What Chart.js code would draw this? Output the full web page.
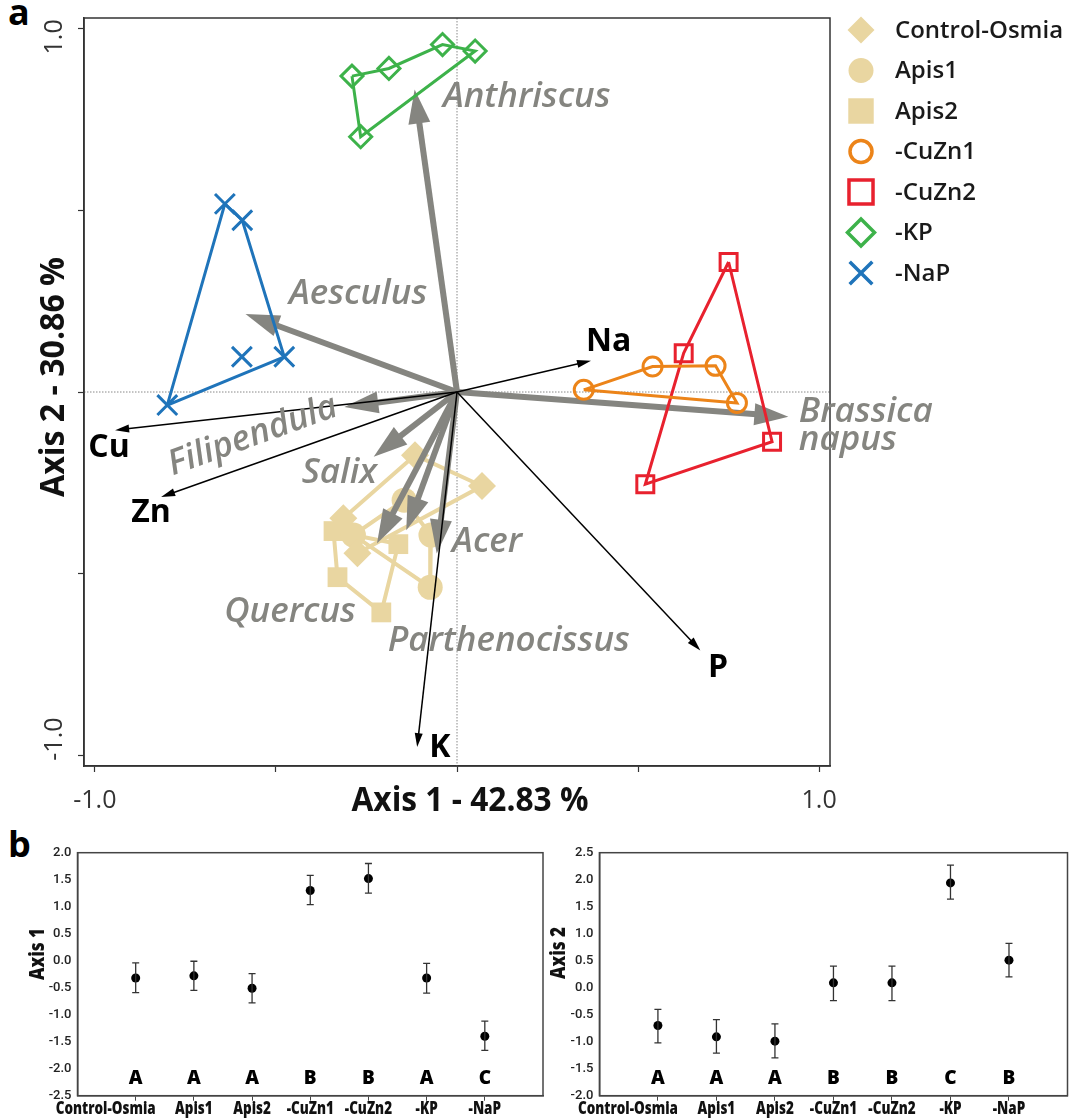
<!DOCTYPE html>
<html>
<head>
<meta charset="utf-8">
<script src="https://cdn.jsdelivr.net/npm/chart.js@4.4.0/dist/chart.umd.min.js"></script>
<style>
  body { margin: 0; background: #fff; width: 1072px; height: 1119px; position: relative; overflow: hidden; }
  .box { position: absolute; }
  .tag { position: absolute; font: 700 36px 'Open Sans', sans-serif; color: #000; line-height: 1; }
</style>
</head>
<body>
<div class="tag" style="left:8px;top:-6px">a</div>
<div class="tag" style="left:8px;top:826px">b</div>
<div class="box" style="left:0;top:0;width:1072px;height:830px"><canvas id="pca"></canvas></div>
<div class="box" style="left:0;top:835px;width:548px;height:284px"><canvas id="axis1"></canvas></div>
<div class="box" style="left:548px;top:835px;width:524px;height:284px"><canvas id="axis2"></canvas></div>
<script>
// ── panel a: sample scores on axis 1 / axis 2 ───────────────
const groupNames = ['Control-Osmia', 'Apis1', 'Apis2', '-CuZn1', '-CuZn2', '-KP', '-NaP'];

const ctrlX  = [-0.116, 0.069, -0.275, -0.314];
const ctrlY  = [-0.174, -0.259, -0.444, -0.348];
const apis1X = [-0.146, -0.072, -0.074, -0.286];
const apis1Y = [-0.298, -0.394, -0.538, -0.394];
const apis2X = [-0.341, -0.162, -0.209, -0.330];
const apis2Y = [-0.383, -0.419, -0.607, -0.510];
const cuzn1X = [0.350, 0.540, 0.714, 0.773];
const cuzn1Y = [0.006, 0.070, 0.072, -0.030];
const cuzn2X = [0.750, 0.870, 0.520, 0.626];
const cuzn2Y = [0.358, -0.137, -0.254, 0.107];
const kpX    = [-0.290, -0.188, -0.040, 0.050, -0.266];
const kpY    = [0.870, 0.891, 0.957, 0.939, 0.703];
const napX   = [-0.641, -0.593, -0.477, -0.800, -0.594];
const napY   = [0.518, 0.473, 0.097, -0.036, 0.097];
// order of the outline corners (the last -NaP point lies inside)
const hullOrder = [[0,1,2,3], [0,1,2,3], [0,1,2,3], [0,1,2,3], [0,1,2,3], [0,1,2,3,4], [0,1,2,3]];

// pollen taxa (grey) and elements (black) – arrow tips
const taxa   = ['Anthriscus', 'Aesculus', 'Filipendula', 'Salix', 'Quercus', 'Parthenocissus', 'Acer', 'Brassica napus'];
const taxaX  = [-0.117, -0.584, -0.311, -0.230, -0.221, -0.140, -0.056, 0.915];
const taxaY  = [0.833, 0.215, -0.041, -0.178, -0.417, -0.381, -0.445, -0.068];
const elements = ['Na', 'Cu', 'Zn', 'P', 'K'];
const elemX  = [0.370, -0.944, -0.817, 0.672, -0.110];
const elemY  = [0.086, -0.105, -0.289, -0.712, -0.978];

const axisTicks = [-1, -0.5, 0, 0.5, 1];

// ── panel b: group means with error bars ─────────────────────
const axis1Mean = [-0.32, -0.28, -0.51, 1.30, 1.52, -0.32, -1.40];
const axis1Lo   = [-0.59, -0.55, -0.78, 1.04, 1.25, -0.60, -1.66];
const axis1Hi   = [-0.04, -0.01, -0.24, 1.58, 1.80, -0.05, -1.12];
const axis1Letters = ['A', 'A', 'A', 'B', 'B', 'A', 'C'];
const axis2Mean = [-0.70, -0.91, -0.99, 0.09, 0.09, 1.94, 0.51];
const axis2Lo   = [-1.02, -1.21, -1.30, -0.24, -0.24, 1.64, 0.20];
const axis2Hi   = [-0.40, -0.59, -0.67, 0.40, 0.40, 2.27, 0.82];
const axis2Letters = ['A', 'A', 'A', 'B', 'B', 'C', 'B'];

// ── styles ───────────────────────────────────────────────────
const FONT = "'Open Sans', sans-serif";
const GREY = '#858580';
const BEIGE = '#e9d6a1';
const groupStyle = [
  { color: BEIGE,     pointStyle: 'rectRot',  radius: 14,   legendR: 13.5, fill: true },
  { color: BEIGE,     pointStyle: 'circle',   radius: 12.5, legendR: 12.5, fill: true },
  { color: BEIGE,     pointStyle: 'rect',     radius: 14,   legendR: 18,   fill: true },
  { color: '#ec8419', pointStyle: 'circle',   radius: 9.5,  legendR: 11,   fill: false },
  { color: '#e8212e', pointStyle: 'rect',     radius: 12,   legendR: 17,   fill: false },
  { color: '#3db24a', pointStyle: 'rectRot',  radius: 11,   legendR: 13.5, fill: false },
  { color: '#1f74ba', pointStyle: 'crossRot', radius: 14,   legendR: 16,   fill: false },
];
// label anchors (data units) for the arrow names
const taxaLabelPos = [[-0.039, 0.811, 'left'], [-0.464, 0.270, 'left'], [-0.564, -0.121, 'center', -20],
  [-0.325, -0.222, 'center'], [-0.461, -0.606, 'center'], [0.143, -0.686, 'center'], [0.083, -0.413, 'center'], [0.944, -0.055, 'left']];
const elemLabelPos = [[0.356, 0.139, 'left'], [-0.961, -0.153, 'center'], [-0.845, -0.332, 'center'], [0.721, -0.759, 'center'], [-0.047, -0.979, 'center']];

const groupX = [ctrlX, apis1X, apis2X, cuzn1X, cuzn2X, kpX, napX];
const groupY = [ctrlY, apis1Y, apis2Y, cuzn1Y, cuzn2Y, kpY, napY];

const datasets = [];
groupNames.forEach((name, g) => {
  const st = groupStyle[g];
  const pts = groupX[g].map((x, i) => ({ x, y: groupY[g][i] }));
  const back = g < 3;
  datasets.push({
    label: name + ' outline', data: hullOrder[g].concat(hullOrder[g][0]).map(i => pts[i]),
    showLine: true, borderColor: st.color, borderWidth: back ? 4 : 3, pointRadius: 0, order: back ? 20 : 11,
  });
  datasets.push({
    label: name, data: pts, pointStyle: st.pointStyle, pointRadius: st.radius,
    pointBackgroundColor: st.fill ? st.color : 'rgba(0,0,0,0)', pointBorderColor: st.color,
    pointBorderWidth: st.fill ? 0 : 3, order: back ? 19 : 10, arrowsAfter: g === 0,
  });
});

function drawArrow(ctx, x0, y0, x1, y1, w, headLen, headW, color) {
  const a = Math.atan2(y1 - y0, x1 - x0);
  const bx = x1 - headLen * Math.cos(a), by = y1 - headLen * Math.sin(a);
  ctx.save();
  ctx.strokeStyle = color; ctx.fillStyle = color; ctx.lineWidth = w;
  ctx.beginPath(); ctx.moveTo(x0, y0); ctx.lineTo(bx + 2 * Math.cos(a), by + 2 * Math.sin(a)); ctx.stroke();
  ctx.beginPath();
  ctx.moveTo(x1, y1);
  ctx.lineTo(bx + headW / 2 * Math.sin(a), by - headW / 2 * Math.cos(a));
  ctx.lineTo(bx - headW / 2 * Math.sin(a), by + headW / 2 * Math.cos(a));
  ctx.closePath(); ctx.fill();
  ctx.restore();
}

// text squeezed horizontally to a given width (the original uses a condensed face)
function fitText(ctx, text, x, y, width, rot) {
  const sx = width / ctx.measureText(text).width;
  ctx.save();
  ctx.translate(x, y);
  if (rot) ctx.rotate(rot);
  ctx.scale(sx, 1);
  ctx.fillText(text, 0, 0);
  ctx.restore();
  return sx;
}

const pcaDecor = {
  id: 'pcaDecor',
  beforeDatasetsDraw(chart) {
    const { ctx, chartArea: a, scales: { x, y } } = chart;
    ctx.save();
    ctx.strokeStyle = '#888'; ctx.lineWidth = 1; ctx.setLineDash([1.5, 1.5]);
    const x0 = x.getPixelForValue(0), y0 = y.getPixelForValue(0);
    ctx.beginPath();
    ctx.moveTo(x0, a.top); ctx.lineTo(x0, a.bottom);
    ctx.moveTo(a.left, y0); ctx.lineTo(a.right, y0);
    ctx.stroke();
    ctx.setLineDash([]);
    ctx.strokeStyle = '#333'; ctx.lineWidth = 1.5;
    ctx.strokeRect(a.left, a.top, a.right - a.left, a.bottom - a.top);
    ctx.restore();
  },
  afterDatasetDraw(chart, args) {
    if (!chart.data.datasets[args.index].arrowsAfter) return;
    const { ctx, scales: { x, y } } = chart;
    const ox = x.getPixelForValue(0), oy = y.getPixelForValue(0);
    taxa.forEach((t, i) => drawArrow(ctx, ox, oy, x.getPixelForValue(taxaX[i]), y.getPixelForValue(taxaY[i]), 6, 34, 22, GREY));
    elements.forEach((e, i) => drawArrow(ctx, ox, oy, x.getPixelForValue(elemX[i]), y.getPixelForValue(elemY[i]), 1.5, 14, 8, '#000'));
  },
  afterDraw(chart) {
    const { ctx, chartArea: a, scales: { x, y } } = chart;
    ctx.save();
    ctx.textBaseline = 'middle';
    // arrow names
    ctx.fillStyle = GREY;
    ctx.font = `italic 600 35px ${FONT}`;
    taxa.forEach((t, i) => {
      const [lx, ly, align, rot] = taxaLabelPos[i];
      const px = x.getPixelForValue(lx), py = y.getPixelForValue(ly);
      ctx.save();
      ctx.translate(px, py);
      if (rot) ctx.rotate(rot * Math.PI / 180);
      ctx.textAlign = align;
      t.split(' ').forEach((s, k) => ctx.fillText(s, 0, k * 28));
      ctx.restore();
    });
    ctx.fillStyle = '#000';
    ctx.font = `700 32px ${FONT}`;
    elements.forEach((e, i) => {
      const [lx, ly, align] = elemLabelPos[i];
      ctx.textAlign = align;
      ctx.fillText(e, x.getPixelForValue(lx), y.getPixelForValue(ly));
    });
    // rotated y tick labels
    ctx.fillStyle = '#333';
    ctx.font = `400 25px ${FONT}`;
    ctx.textAlign = 'center';
    [[1, 8], [-1, -16]].forEach(([v, dy]) => {
      ctx.save();
      ctx.translate(a.left - 29, y.getPixelForValue(v) + dy);
      ctx.rotate(-Math.PI / 2);
      ctx.fillText(v.toFixed(1), 0, 0);
      ctx.restore();
    });
    // axis titles
    ctx.fillStyle = '#111';
    ctx.font = `700 34px ${FONT}`;
    fitText(ctx, 'Axis 1 - 42.83 %', (a.left + a.right) / 2 + 13, a.bottom + 35, 237);
    fitText(ctx, 'Axis 2 - 30.86 %', a.left - 30, (a.top + a.bottom) / 2 - 15, 240, -Math.PI / 2);
    // legend
    ctx.textAlign = 'left';
    ctx.font = `600 24px ${FONT}`;
    groupNames.forEach((name, g) => {
      const st = groupStyle[g];
      const ly = 30 + g * 40.5;
      ctx.save();
      ctx.fillStyle = st.fill ? st.color : 'rgba(0,0,0,0)';
      ctx.strokeStyle = st.color;
      ctx.lineWidth = st.fill ? 0 : 3.5;
      Chart.helpers.drawPoint(ctx, { pointStyle: st.pointStyle, radius: st.legendR, rotation: 0, borderWidth: st.fill ? 0 : 3.5 }, a.right + 31, ly);
      ctx.restore();
      ctx.fillStyle = '#1a1a1a';
      ctx.fillText(name, a.right + 65, ly + 1);
    });
    ctx.restore();
  }
};

new Chart(document.getElementById('pca'), {
  type: 'scatter',
  data: { datasets },
  options: {
    responsive: true, maintainAspectRatio: false, animation: false,
    layout: { padding: { top: 18, right: 242, left: 0, bottom: 0 } },
    plugins: { legend: { display: false }, tooltip: { enabled: false } },
    elements: { line: { tension: 0 } },
    scales: {
      x: {
        min: -1.03, max: 1.03,
        afterBuildTicks: s => { s.ticks = axisTicks.map(v => ({ value: v })); },
        afterFit: s => { s.height = 64; },
        grid: { drawOnChartArea: false, tickLength: 6, color: '#333', tickWidth: 1.2 },
        border: { color: '#333', width: 1.5 },
        ticks: { autoSkip: false, maxRotation: 0, padding: 14, color: '#333', font: { family: FONT, size: 25 },
                 callback: v => Math.abs(v) === 1 ? v.toFixed(1) : '' }
      },
      y: {
        min: -1.03, max: 1.03,
        afterBuildTicks: s => { s.ticks = axisTicks.map(v => ({ value: v })); },
        afterFit: s => { s.width = 84; },
        grid: { drawOnChartArea: false, tickLength: 6, color: '#333', tickWidth: 1.2 },
        border: { color: '#333', width: 1.5 },
        ticks: { display: false }
      }
    }
  },
  plugins: [pcaDecor]
});

// ── panel b ──────────────────────────────────────────────────
const meanDecor = {
  id: 'meanDecor',
  afterDatasetsDraw(chart, args, o) {
    const { ctx, chartArea: a, scales: { x, y } } = chart;
    ctx.save();
    ctx.strokeStyle = '#444'; ctx.lineWidth = 1.5;
    ctx.strokeRect(a.left, a.top, a.right - a.left, a.bottom - a.top);
    ctx.strokeStyle = '#333'; ctx.lineWidth = 1.3;
    o.lo.forEach((lo, i) => {
      const px = x.getPixelForValue(i + 1), p1 = y.getPixelForValue(lo), p2 = y.getPixelForValue(o.hi[i]);
      ctx.beginPath();
      ctx.moveTo(px, p1); ctx.lineTo(px, p2);
      ctx.moveTo(px - 3.5, p1); ctx.lineTo(px + 3.5, p1);
      ctx.moveTo(px - 3.5, p2); ctx.lineTo(px + 3.5, p2);
      ctx.stroke();
    });
    ctx.fillStyle = '#000';
    ctx.textAlign = 'center'; ctx.textBaseline = 'middle';
    ctx.font = `800 19px ${FONT}`;
    o.letters.forEach((t, i) => ctx.fillText(t, x.getPixelForValue(i + 1), y.getPixelForValue(o.letterY)));
    // category names, condensed like the original; the long first one is pushed left
    ctx.fillStyle = '#111';
    ctx.font = `800 18px ${FONT}`;
    const sx = 100 / ctx.measureText(groupNames[0]).width;
    groupNames.forEach((name, i) => {
      ctx.save();
      ctx.translate(x.getPixelForValue(i + 1) - (i === 0 ? 30 : 0), a.bottom + 13);
      ctx.scale(sx, 1);
      ctx.fillText(name, 0, 0);
      ctx.restore();
    });
    ctx.font = `800 21px ${FONT}`;
    fitText(ctx, o.title, o.titleX, o.titleY, 52, -Math.PI / 2);
    ctx.restore();
  }
};

function meanChart(id, means, lo, hi, letters, yMin, yMax, title, box) {
  return new Chart(document.getElementById(id), {
    type: 'scatter',
    data: { datasets: [{ data: means.map((m, i) => ({ x: i + 1, y: m })), pointRadius: 4.5, pointBackgroundColor: '#000', pointBorderWidth: 0 }] },
    options: {
      responsive: true, maintainAspectRatio: false, animation: false,
      layout: { padding: { top: box.top, right: box.right, left: 0, bottom: 0 } },
      plugins: {
        legend: { display: false }, tooltip: { enabled: false },
        meanDecor: { lo, hi, letters, letterY: box.letterY, title, titleX: box.titleX, titleY: box.titleY }
      },
      scales: {
        x: {
          type: 'linear', min: 0, max: groupNames.length + 1,
          afterBuildTicks: s => { s.ticks = groupNames.map((_, i) => ({ value: i + 1 })); },
          afterFit: s => { s.height = box.bottom; },
          grid: { drawOnChartArea: false, tickLength: 5, color: '#444' },
          border: { color: '#444', width: 1.5 },
          ticks: { display: false }
        },
        y: {
          min: yMin, max: yMax,
          afterFit: s => { s.width = box.left; },
          grid: { drawOnChartArea: false, drawTicks: false },
          border: { color: '#444', width: 1.5 },
          ticks: { stepSize: 0.5, padding: 6, color: '#222', font: { family: 'Roboto', weight: '500', size: 13 },
                   callback: v => v.toFixed(1) }
        }
      }
    },
    plugins: [meanDecor]
  });
}

meanChart('axis1', axis1Mean, axis1Lo, axis1Hi, axis1Letters, -2.5, 2.0, 'Axis 1',
  { top: 17.7, right: 5, bottom: 23.3, left: 77.5, letterY: -2.18, titleX: 38, titleY: 119 });
meanChart('axis2', axis2Mean, axis2Lo, axis2Hi, axis2Letters, -2.0, 2.5, 'Axis 2',
  { top: 17.7, right: 4.4, bottom: 23.3, left: 51.4, letterY: -1.68, titleX: 11, titleY: 118 });
</script>
</body>
</html>
